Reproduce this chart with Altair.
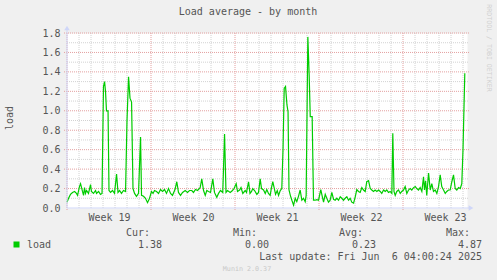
import altair as alt
import pandas as pd

# ---- data ----
days = [0.00, 0.13, 0.29, 0.46, 0.63, 0.79, 0.88, 1.04, 1.13, 1.29, 1.38, 1.46, 1.54, 1.63, 1.79, 1.96,
        2.04, 2.21, 2.38, 2.46, 2.63, 2.79, 2.92, 3.04, 3.13, 3.21, 3.29, 3.42, 3.50, 3.63, 3.79, 3.96,
        4.13, 4.25, 4.38, 4.54, 4.71, 4.88, 5.00, 5.13, 5.25, 5.38, 5.50, 5.63, 5.79, 5.96, 6.13, 6.21,
        6.38, 6.54, 6.71, 6.88, 7.04, 7.17, 7.29, 7.46, 7.63, 7.79, 7.96, 8.13, 8.29, 8.46, 8.63, 8.79,
        9.00, 9.15, 9.29, 9.46, 9.63, 9.85, 10.04, 10.21, 10.40, 10.54, 10.71, 10.88, 11.10, 11.23, 11.38,
        11.52, 11.65, 11.79, 11.96, 12.15, 12.29, 12.48, 12.63, 12.79, 12.98, 13.13, 13.25, 13.38, 13.60,
        13.79, 13.92, 14.10, 14.21, 14.38, 14.50, 14.65, 14.85, 14.96, 15.13, 15.25, 15.38, 15.48, 15.63,
        15.82, 15.96, 16.10, 16.21, 16.38, 16.52, 16.65, 16.79, 16.93, 17.04, 17.15, 17.26, 17.38, 17.52,
        17.63, 17.77, 17.90, 18.00, 18.10, 18.21, 18.33, 18.42, 18.50, 18.61, 18.74, 18.88, 19.02, 19.15,
        19.29, 19.43, 19.57, 19.71, 19.85, 19.93, 20.07, 20.18, 20.27, 20.43, 20.54, 20.68, 20.82, 20.96,
        21.15, 21.27, 21.38, 21.52, 21.65, 21.79, 21.93, 22.07, 22.21, 22.35, 22.48, 22.63, 22.77, 22.90,
        23.04, 23.18, 23.32, 23.46, 23.60, 23.73, 23.88, 24.02, 24.15, 24.29, 24.43, 24.57, 24.71, 24.85,
        24.98, 25.13, 25.27, 25.40, 25.54, 25.68, 25.82, 25.96, 26.10, 26.23, 26.38, 26.52, 26.65, 26.79,
        26.93, 27.07, 27.15, 27.25, 27.35, 27.48, 27.63, 27.77, 27.90, 28.04, 28.18, 28.32, 28.46, 28.60,
        28.73, 28.88, 29.02, 29.15, 29.29, 29.43, 29.57, 29.71, 29.79, 29.88, 29.98, 30.13, 30.27, 30.40,
        30.54, 30.68, 30.82, 30.96, 31.10, 31.23, 31.38, 31.52, 31.65, 31.79, 31.93, 32.07, 32.21, 32.35,
        32.48, 32.63, 32.77, 32.90, 33.00, 33.15]
load = [0.06, 0.10, 0.14, 0.16, 0.17, 0.15, 0.13, 0.22, 0.25, 0.17, 0.13, 0.21, 0.15, 0.18, 0.15, 0.24,
        0.17, 0.15, 0.18, 0.15, 0.17, 0.14, 0.15, 1.25, 1.30, 1.20, 1.00, 1.00, 0.18, 0.16, 0.18, 0.15,
        0.35, 0.16, 0.18, 0.15, 0.18, 0.17, 0.90, 1.35, 1.13, 1.09, 0.20, 0.15, 0.12, 0.15, 0.73, 0.13,
        0.12, 0.10, 0.055, 0.10, 0.17, 0.15, 0.18, 0.17, 0.15, 0.19, 0.17, 0.19, 0.15, 0.20, 0.15, 0.13,
        0.19, 0.27, 0.16, 0.13, 0.16, 0.18, 0.16, 0.18, 0.18, 0.16, 0.19, 0.18, 0.21, 0.30, 0.18,
        0.13, 0.18, 0.17, 0.16, 0.30, 0.16, 0.11, 0.15, 0.18, 0.16, 0.76, 0.16, 0.18, 0.16,
        0.18, 0.20, 0.25, 0.17, 0.185, 0.21, 0.15, 0.18, 0.16, 0.27, 0.15, 0.17, 0.20, 0.18,
        0.14, 0.16, 0.30, 0.20, 0.185, 0.15, 0.19, 0.15, 0.13, 0.21, 0.27, 0.21, 0.14, 0.18,
        0.13, 0.18, 0.20, 0.60, 1.23, 1.25, 1.06, 0.99, 0.185, 0.13, 0.08, 0.03, 0.10, 0.065,
        0.12, 0.185, 0.08, 0.10, 0.065, 0.13, 1.76, 1.37, 0.94, 0.94, 0.08, 0.08, 0.085, 0.08,
        0.19, 0.12, 0.06, 0.14, 0.10, 0.06, 0.08, 0.16, 0.09, 0.08, 0.10, 0.08, 0.115, 0.10,
        0.08, 0.10, 0.115, 0.08, 0.10, 0.06, 0.05, 0.115, 0.19, 0.17, 0.16, 0.21, 0.185, 0.17,
        0.27, 0.28, 0.20, 0.185, 0.17, 0.185, 0.17, 0.185, 0.17, 0.15, 0.185, 0.17, 0.185, 0.16,
        0.17, 0.15, 0.77, 0.17, 0.13, 0.17, 0.185, 0.15, 0.17, 0.185, 0.22, 0.15, 0.185, 0.20,
        0.185, 0.21, 0.22, 0.20, 0.185, 0.21, 0.17, 0.32, 0.185, 0.28, 0.13, 0.36, 0.185, 0.25,
        0.17, 0.185, 0.15, 0.22, 0.34, 0.22, 0.185, 0.15, 0.17, 0.185, 0.185, 0.27, 0.34, 0.20,
        0.185, 0.21, 0.20, 0.25, 0.60, 1.385]

y_ticks = [0.0, 0.2, 0.4, 0.6, 0.8, 1.0, 1.2, 1.4, 1.6, 1.8]
y_minor = [0.1, 0.3, 0.5, 0.7, 0.9, 1.1, 1.3, 1.5, 1.7]
week_starts = [0, 7, 14, 21, 28]
day_lines = [d for d in range(1, 34) if d % 7 != 0]
week_mids = [3.5, 10.5, 17.5, 24.5, 31.5]
first_week = 19

title = "Load average - by month"
legend_name = "load"
stat_heads = ["Cur:", "Min:", "Avg:", "Max:"]
stat_vals = ["1.38", "0.00", "0.23", "4.87"]
last_update = "Last update: Fri Jun\u00a0 6 04:00:24 2025"
version = "Munin 2.0.37"
watermark = "RRDTOOL / TOBI OETIKER"

# ---- styles ----
W, H = 400, 175
FONT = "DejaVu Sans Mono"
TXT = "#555555"
GREEN = "#00CC00"
MAJ = "#e4a0a0"
MIN = "#d2d2d2"
AXC = "#CFD6F8"

xs = alt.Scale(domain=[0, W / 12], nice=False, zero=False)
ys = alt.Scale(domain=[0, 1.8], nice=False, zero=True)

x_axis = alt.Axis(
    values=week_mids, labelExpr=f"'Week ' + (floor(datum.value / 7) + {first_week})",
    ticks=False, grid=False, domain=False, labelPadding=4, title=None,
    labelFont=FONT, labelFontSize=10, labelColor=TXT, labelAngle=0)
y_axis = alt.Axis(
    values=y_ticks, format=".1f", ticks=False, grid=False, domain=False,
    labelPadding=7, title=None, labelFont=FONT, labelFontSize=10, labelColor=TXT)

one = alt.Data(values=[{}])

minor_h = alt.Chart(pd.DataFrame({"v": y_minor})).mark_rule(
    color=MIN, strokeDash=[1, 1], strokeWidth=1
).encode(y=alt.Y("v:Q", scale=ys, axis=y_axis), x=alt.value(0), x2=alt.value(W + 2))

minor_v = alt.Chart(pd.DataFrame({"d": day_lines})).mark_rule(
    color=MIN, strokeDash=[1, 1], strokeWidth=1
).encode(x=alt.X("d:Q", scale=xs, axis=x_axis), y=alt.value(0), y2=alt.value(H))

major_h = alt.Chart(pd.DataFrame({"v": y_ticks[1:]})).mark_rule(
    color=MAJ, strokeDash=[1, 1], strokeWidth=1
).encode(y=alt.Y("v:Q", scale=ys, axis=y_axis), x=alt.value(-3), x2=alt.value(W + 2))

major_v = alt.Chart(pd.DataFrame({"d": week_starts})).mark_rule(
    color=MAJ, strokeDash=[1, 1], strokeWidth=1
).encode(x=alt.X("d:Q", scale=xs, axis=x_axis), y=alt.value(0), y2=alt.value(H + 3))

line = alt.Chart(pd.DataFrame({"day": days, "load": load})).mark_line(
    color=GREEN, strokeWidth=1.2
).encode(
    x=alt.X("day:Q", scale=xs, axis=x_axis),
    y=alt.Y("load:Q", scale=ys, axis=y_axis),
)

y_axis_line = alt.Chart(one).mark_rule(color=AXC, strokeWidth=1).encode(
    x=alt.value(0), y=alt.value(-4), y2=alt.value(H))
x_axis_line = alt.Chart(one).mark_rule(color=AXC, strokeWidth=1).encode(
    x=alt.value(0), x2=alt.value(W + 3), y=alt.value(H))
up_arrow = alt.Chart(one).mark_point(shape="triangle-up", filled=True, color=AXC, size=30, opacity=1).encode(
    x=alt.value(0), y=alt.value(-5))
right_arrow = alt.Chart(one).mark_point(shape="triangle-right", filled=True, color=AXC, size=30, opacity=1).encode(
    x=alt.value(W + 4), y=alt.value(H))


def txt(s, x, y, align="left", size=10, color=TXT, angle=0):
    kw = dict(font=FONT, fontSize=size, color=color, align=align, baseline="middle")
    if angle:
        kw["angle"] = angle
    return alt.Chart(one).mark_text(**kw).encode(
        x=alt.value(x), y=alt.value(y), text=alt.value(s))


texts = [
    txt(title, 181, -21, align="center"),
    txt(legend_name, -57, 85, align="center", angle=270),
    txt(watermark, 422, 15, align="center", size=6.6, color="#d0d0d0", angle=90),
    txt(legend_name, -40, 212),
    txt(last_update, 415, 224, align="right"),
    txt(version, 180, 236, align="center", size=6.7, color="#c8c8c8"),
]
head_x = [83, 190, 296, 403]
val_x = [95, 202, 309, 415]
for h, hx in zip(stat_heads, head_x):
    texts.append(txt(h, hx, 200, align="right"))
for v, vx in zip(stat_vals, val_x):
    texts.append(txt(v, vx, 212, align="right"))

swatch = alt.Chart(one).mark_square(color=GREEN, size=36, opacity=1).encode(
    x=alt.value(-50.5), y=alt.value(211.5))

chart = alt.layer(
    minor_h, minor_v, major_h, major_v, line,
    y_axis_line, x_axis_line, up_arrow, right_arrow, swatch, *texts
).properties(
    width=W, height=H,
    autosize=alt.AutoSizeParams(type="none"),
    padding={"left": 67, "top": 33, "right": 30, "bottom": 72},
    background="#F0F0F0",
).configure_view(fill="white", stroke="transparent")

chart.save("out.html", embed_options={"renderer": "svg", "actions": False})
